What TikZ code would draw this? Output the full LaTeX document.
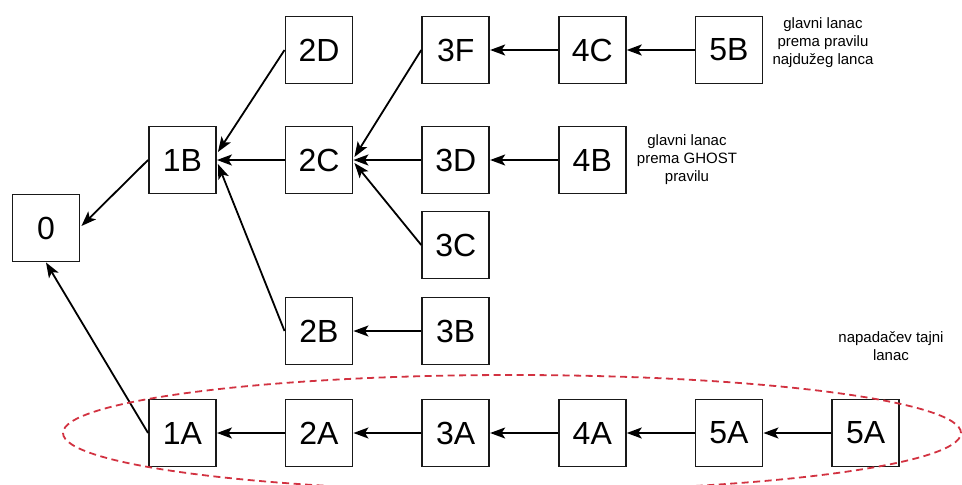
\documentclass[tikz,border=0pt]{standalone}
\usepackage{fontspec}
\setmainfont{Liberation Sans}
\usetikzlibrary{arrows.meta,calc,shapes.geometric}
\definecolor{chainred}{RGB}{210,50,65}
\begin{document}
\begin{tikzpicture}[x=1pt,y=-1pt,
  blk/.style={draw=black!90, line width=1.9pt, minimum width=67pt, minimum height=67pt, inner sep=0pt, font=\fontsize{32}{36}\selectfont},
  link/.style={line width=1.8pt, -{Stealth[length=15pt,width=11pt,inset=3.5pt]}},
  note/.style={align=center, font=\fontsize{15}{18}\selectfont},
  secret/.style={draw=chainred, line width=1.8pt, dash pattern=on 7pt off 4.5pt, ellipse, inner sep=0pt}]
\useasboundingbox (0,0) rectangle (962,485);
% boxes
\node[blk] (n0)  at (46,228) {0};
\node[blk] (n1B) at (182.5,160) {1B};
\node[blk] (n2D) at (319,50) {2D};
\node[blk] (n2C) at (319,160) {2C};
\node[blk] (n2B) at (319,331) {2B};
\node[blk] (n3F) at (455.7,50) {3F};
\node[blk] (n3D) at (455.7,160) {3D};
\node[blk] (n3C) at (455.7,245) {3C};
\node[blk] (n3B) at (455.7,331) {3B};
\node[blk] (n4C) at (592.3,50) {4C};
\node[blk] (n4B) at (592.3,160) {4B};
\node[blk] (n5B) at (729,50) {5B};
\node[blk] (n1A) at (182.5,433) {1A};
\node[blk] (n2A) at (319,433) {2A};
\node[blk] (n3A) at (455.7,433) {3A};
\node[blk] (n4A) at (592.3,433) {4A};
\node[blk] (n5A) at (729,433) {5A};
\node[blk] (n5Ab) at (865.7,433) {5A};
% notes
\node[note] (t1) at (823,43) {glavni lanac\\prema pravilu\\najdužeg lanca};
\node[note] (t2) at (687,160) {glavni lanac\\prema GHOST\\pravilu};
\node[note] (t3) at (891,346) {napadačev tajni\\lanac};
% connectors
\draw[link] (n1B.west) -- ($(n0.east)+(1,-2)$);
\draw[link] (n1A.west) -- (n0.south);
\draw[link] (n2D.west) -- ($(n1B.east)+(1,-8)$);
\draw[link] (n2C.west) -- (n1B.east);
\draw[link] (n2B.west) -- ($(n1B.east)+(1,4)$);
\draw[link] (n3F.west) -- ($(n2C.east)+(1,-3)$);
\draw[link] (n3D.west) -- (n2C.east);
\draw[link] (n3C.west) -- ($(n2C.east)+(1,3)$);
\draw[link] (n3B.west) -- (n2B.east);
\draw[link] (n4C.west) -- (n3F.east);
\draw[link] (n5B.west) -- (n4C.east);
\draw[link] (n4B.west) -- (n3D.east);
\draw[link] (n2A.west) -- (n1A.east);
\draw[link] (n3A.west) -- (n2A.east);
\draw[link] (n4A.west) -- (n3A.east);
\draw[link] (n5A.west) -- (n4A.east);
\draw[link] (n5Ab.west) -- (n5A.east);
% attacker's secret chain
\node[secret, minimum width=898pt, minimum height=116pt] (attack) at (512,433) {};
\end{tikzpicture}
\end{document}
